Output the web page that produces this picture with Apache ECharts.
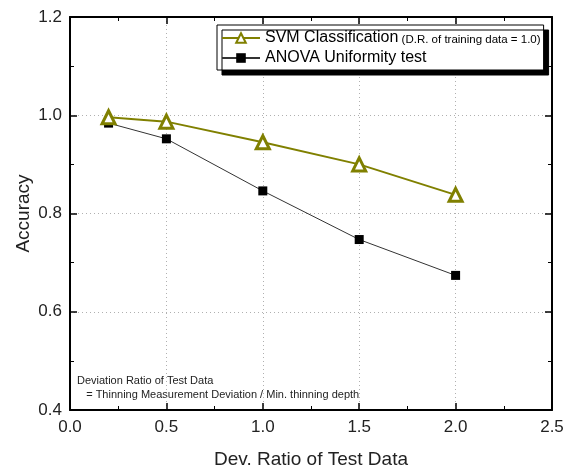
<!DOCTYPE html>
<html><head><meta charset="utf-8">
<script src="https://cdn.jsdelivr.net/npm/echarts@6/dist/echarts.min.js"></script>
<style>html,body{margin:0;padding:0;background:#fff}#c{width:579px;height:470px}</style>
</head><body><div id="c"></div>
<script>
const devRatio = [0.2, 0.5, 1.0, 1.5, 2.0];
const svmAcc = [0.996, 0.987, 0.945, 0.900, 0.838];
const anovaAcc = [0.984, 0.952, 0.846, 0.747, 0.674];
const seriesNames = ['SVM Classification', 'ANOVA Uniformity test'];
const xLabel = 'Dev. Ratio of Test Data';
const yLabel = 'Accuracy';
const noteLines = ['Deviation Ratio of Test Data', '   = Thinning Measurement Deviation / Min. thinning depth'];

const font = 'Liberation Sans, Arial, sans-serif';
const chart = echarts.init(document.getElementById('c'));
const axisLineStyle = {color: '#000', width: 2};
const mkX = (pos, labels) => ({
  type: 'value', position: pos, min: 0, max: 2.5, interval: 0.5,
  axisLine: {show: true, onZero: false, lineStyle: axisLineStyle},
  axisTick: {show: true, inside: true, length: 7, lineStyle: {color: '#000', width: 1.5}},
  minorTick: {show: true, splitNumber: 2, length: 4, lineStyle: {color: '#000', width: 1}},
  axisLabel: {show: labels, formatter: v => v.toFixed(1), color: '#222', fontSize: 17, fontFamily: font, margin: 9},
  splitLine: {show: labels, lineStyle: {color: '#b0b0b0', type: [1, 3], width: 1}},
  name: labels ? xLabel : '', nameLocation: 'middle', nameGap: 40,
  nameTextStyle: {fontSize: 19, color: '#222', fontFamily: font}
});
const mkY = (pos, labels) => ({
  type: 'value', position: pos, min: 0.4, max: 1.2, interval: 0.2,
  axisLine: {show: true, onZero: false, lineStyle: axisLineStyle},
  axisTick: {show: true, inside: true, length: 7, lineStyle: {color: '#000', width: 1.5}},
  minorTick: {show: true, splitNumber: 2, length: 4, lineStyle: {color: '#000', width: 1}},
  axisLabel: {show: labels, formatter: v => v.toFixed(1), color: '#222', fontSize: 17, fontFamily: font, margin: 8},
  splitLine: {show: labels, lineStyle: {color: '#b0b0b0', type: [1, 3], width: 1}},
  name: labels ? yLabel : '', nameLocation: 'middle', nameGap: 37, nameRotate: 90, nameMoveOverlap: false,
  nameTextStyle: {fontSize: 19, color: '#222', fontFamily: font}
});
chart.setOption({
  animation: false,
  grid: {left: 70, right: 27, top: 17, bottom: 60, outerBoundsMode: 'none', containLabel: false},
  xAxis: [mkX('bottom', true), mkX('top', false)],
  yAxis: [mkY('left', true), mkY('right', false)],
  legend: {
    left: 217, top: 25, orient: 'vertical', itemGap: 4, itemWidth: 38, itemHeight: 12,
    padding: [5, 3, 4, 4],
    backgroundColor: '#fff', borderColor: '#000', borderWidth: 1,
    shadowColor: '#000', shadowOffsetX: 5, shadowOffsetY: 5, shadowBlur: 0,
    data: seriesNames,
    formatter: n => n === seriesNames[0] ? '{a|' + n + '}{b| (D.R. of training data = 1.0)}' : '{a|' + n + '}',
    textStyle: {fontFamily: font, rich: {
      a: {fontSize: 16, color: '#000', fontFamily: font},
      b: {fontSize: 11.5, color: '#000', fontFamily: font, padding: [3, 0, 0, 0]}
    }}
  },
  graphic: [{
    type: 'text', left: 77, top: 374,
    style: {text: noteLines.join('\n'), fontSize: 11, lineHeight: 14, fill: '#222', fontFamily: font}
  }],
  series: [{
    name: seriesNames[0], type: 'line', data: devRatio.map((x, i) => [x, svmAcc[i]]),
    symbol: 'triangle', symbolSize: 13, color: '#808000',
    lineStyle: {color: '#808000', width: 2},
    itemStyle: {color: '#fff', borderColor: '#808000', borderWidth: 3}, z: 3
  }, {
    name: seriesNames[1], type: 'line', data: devRatio.map((x, i) => [x, anovaAcc[i]]),
    symbol: 'rect', symbolSize: 9, color: '#000',
    lineStyle: {color: '#333', width: 1},
    itemStyle: {color: '#000'}, z: 2
  }]
});
</script></body></html>
